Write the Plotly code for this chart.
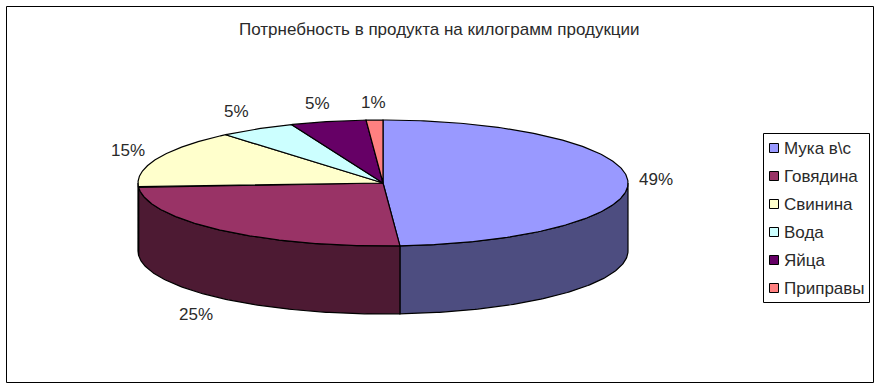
import numpy as np
import plotly.graph_objects as go

categories = ["Мука в\\с", "Говядина", "Свинина", "Вода", "Яйца", "Приправы"]
shares = [48.9, 25.0, 15.0, 5.0, 5.0, 1.1]
top_colors = ["#9999FF", "#993366", "#FFFFCC", "#CCFFFF", "#660066", "#FF8080"]
side_colors = ["#4D4D80", "#4D1A33", "#808066", "#668080", "#330033", "#804040"]
title_text = "Потрнебность в продукта на килограмм продукции"

# layout constants, in page pixels
W, H = 882, 389
CX, CY, RX, RY, DEPTH = 383.0, 183.0, 245.0, 63.0, 68.0
label_pos = [(656, 179), (196, 314), (128, 150), (236, 111), (317, 103), (373, 102)]
LEG_X0, LEG_X1, LEG_Y0, LEG_DY = 763, 869, 148, 28.0
FONT = "Liberation Sans, Arial, sans-serif"
TEXT = "#2a2a2a"

def ex(t):
    return CX + RX * np.sin(t)

def ey(t, d=0.0):
    return CY - RY * np.cos(t) + d

fig = go.Figure()
edges = np.cumsum([0] + shares) / sum(shares) * 2 * np.pi

def add_poly(x, y, fill, name):
    fig.add_trace(go.Scatter(
        x=x, y=y, mode="lines", fill="toself", fillcolor=fill,
        line=dict(color="black", width=1.2), name=name,
        hoverinfo="name", showlegend=False))

# outer walls: only the front half of the rim is visible
for i, cat in enumerate(categories):
    a = max(edges[i], np.pi / 2)
    b = min(edges[i + 1], 3 * np.pi / 2)
    if a >= b:
        continue
    t = np.linspace(a, b, 120)
    x = np.concatenate([ex(t), ex(t[::-1])])
    y = np.concatenate([ey(t), ey(t[::-1], DEPTH)])
    add_poly(np.append(x, x[0]), np.append(y, y[0]), side_colors[i], cat)

# top faces
for i, cat in enumerate(categories):
    t = np.linspace(edges[i], edges[i + 1], 240)
    x = np.concatenate([[CX], ex(t), [CX]])
    y = np.concatenate([[CY], ey(t), [CY]])
    add_poly(x, y, top_colors[i], cat)

shapes = [
    dict(type="rect", x0=6.5, x1=873.5, y0=6.5, y1=382.5,
         line=dict(color="black", width=1), layer="below"),
    dict(type="rect", x0=LEG_X0 + .5, x1=LEG_X1 + .5, y0=133.5, y1=302.5,
         line=dict(color="black", width=1), fillcolor="white", layer="below"),
]
annotations = [dict(x=439, y=29, text=title_text, showarrow=False,
                    font=dict(family=FONT, size=17, color=TEXT))]
for (lx, ly), s in zip(label_pos, shares):
    annotations.append(dict(x=lx, y=ly, text=f"{round(s)}%", showarrow=False,
                            font=dict(family=FONT, size=17, color=TEXT)))
for i, cat in enumerate(categories):
    yc = LEG_Y0 + i * LEG_DY
    shapes.append(dict(type="rect", x0=769.5, x1=778.5, y0=yc - 4.5, y1=yc + 4.5,
                       fillcolor=top_colors[i], line=dict(color="black", width=1)))
    annotations.append(dict(x=782, y=yc, text=cat, showarrow=False, xanchor="left",
                            font=dict(family=FONT, size=17, color=TEXT)))

fig.update_layout(
    width=W, height=H, margin=dict(l=0, r=0, t=0, b=0),
    paper_bgcolor="white", plot_bgcolor="white", showlegend=False,
    xaxis=dict(range=[0, W], visible=False, fixedrange=True),
    yaxis=dict(range=[H, 0], visible=False, fixedrange=True),
    shapes=shapes, annotations=annotations,
)
fig.write_html("out.html", config=dict(displayModeBar=False),
               post_script="document.body.style.margin='0';document.documentElement.style.overflow='hidden';")
